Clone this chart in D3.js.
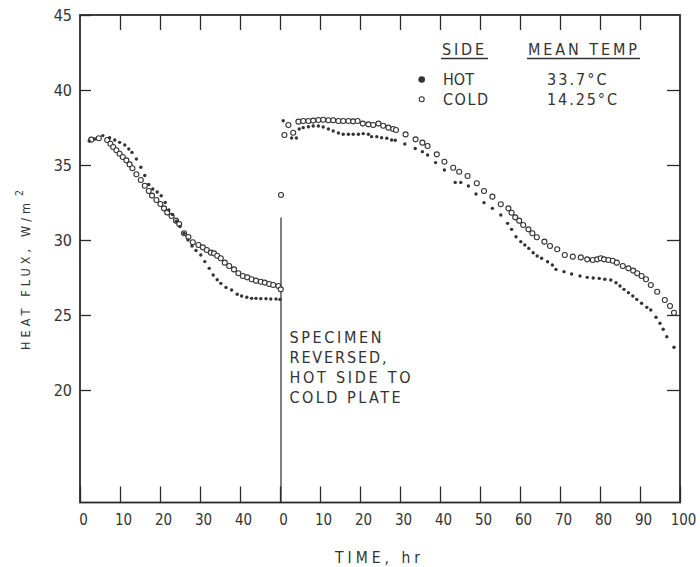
<!DOCTYPE html>
<html><head><meta charset="utf-8">
<script src="https://cdn.jsdelivr.net/npm/d3@7"></script>
<style>
html,body{margin:0;padding:0;background:#fff;}
svg{display:block;}
text{font-family:"DejaVu Sans Condensed","DejaVu Sans",sans-serif;fill:#333;}
</style></head><body>
<svg id="chart" width="700" height="567"></svg>
<script>
// ---- data: [time (hr), heat flux (W/m2)] ----
const hotRun1 = [[2.3,36.6],[3.7,36.73],[5.7,36.96],[7.4,36.82],[8.7,36.67],[9.9,36.51],[11.2,36.33],[12.2,36.07],[13.0,35.84],[14.1,35.4],[15.2,34.85],[16.2,34.3],[17.2,33.7],[18.2,33.4],[19.3,33.2],[20.3,32.95],[21.3,32.5],[22.2,32.0],[23.1,31.7],[24.1,31.25],[25.0,30.9],[26.0,30.45],[27.0,30.0],[28.0,29.6],[29.0,29.3],[30.2,29.0],[31.2,28.56],[32.3,28.11],[33.3,27.67],[34.3,27.35],[35.2,27.11],[36.5,26.84],[37.9,26.67],[39.3,26.38],[40.4,26.27],[41.7,26.18],[42.9,26.11],[44.0,26.11],[45.2,26.09],[46.5,26.09],[47.7,26.07],[49.0,26.07],[50.0,26.04]];
const coldRun1 = [[2.8,36.69],[4.7,36.78],[6.8,36.67],[7.6,36.42],[8.3,36.2],[9.1,35.98],[9.9,35.75],[10.7,35.53],[11.6,35.31],[12.4,35.04],[13.1,34.78],[14.1,34.38],[15.2,34.0],[16.2,33.62],[17.2,33.27],[18.0,32.96],[19.1,32.67],[20.1,32.4],[21.0,32.11],[21.8,31.84],[22.9,31.6],[24.0,31.29],[24.8,31.07],[26.0,30.45],[27.1,30.2],[28.2,29.85],[29.6,29.67],[30.7,29.51],[31.7,29.33],[32.7,29.16],[33.5,29.11],[34.3,28.95],[35.2,28.78],[36.2,28.49],[37.3,28.27],[38.5,28.04],[39.6,27.78],[40.7,27.6],[41.8,27.51],[42.9,27.38],[44.0,27.29],[45.2,27.22],[46.2,27.16],[47.3,27.07],[48.3,27.0],[49.6,26.93],[50.2,26.71]];
const hotRun2 = [[0.8,37.95],[2.9,36.8],[4.1,36.8],[4.8,37.4],[5.8,37.49],[7.1,37.55],[8.3,37.6],[9.6,37.6],[10.8,37.53],[12.1,37.4],[13.3,37.27],[14.6,37.13],[15.8,37.05],[17.1,37.05],[18.3,37.05],[19.6,37.05],[20.8,37.09],[22.1,37.05],[22.9,36.89],[24.2,36.89],[25.4,36.82],[26.7,36.78],[27.9,36.67],[28.8,36.65],[31.2,36.4],[33.8,36.1],[35.6,35.89],[36.9,35.67],[38.9,35.16],[41.1,34.67],[43.8,33.84],[45.2,33.84],[47.1,33.6],[49.0,33.07],[51.0,32.49],[53.1,32.11],[55.2,31.67],[56.9,31.11],[57.9,30.71],[59.0,30.22],[60.2,29.89],[61.2,29.67],[62.2,29.44],[63.3,29.15],[64.3,28.93],[65.4,28.78],[66.9,28.55],[68.1,28.33],[69.0,28.04],[71.0,27.89],[72.9,27.73],[75.0,27.6],[76.8,27.51],[78.3,27.47],[79.8,27.44],[81.2,27.38],[82.7,27.33],[84.0,27.15],[85.0,26.93],[86.0,26.71],[87.1,26.49],[88.2,26.27],[89.2,26.04],[90.4,25.78],[91.7,25.51],[92.7,25.33],[94.0,24.85],[95.0,24.45],[95.8,24.05],[96.7,23.55],[98.5,22.85]];
const coldRun2 = [[0.25,33.0],[1.1,37.0],[2.1,37.67],[3.3,37.15],[4.6,37.89],[5.8,37.93],[7.1,37.93],[8.3,37.96],[9.6,38.0],[10.8,38.02],[12.1,37.98],[13.3,37.98],[14.6,37.93],[15.8,37.93],[17.1,37.93],[18.3,37.91],[19.4,37.93],[20.7,37.76],[22.1,37.71],[23.3,37.67],[24.6,37.76],[25.8,37.62],[27.1,37.49],[28.3,37.4],[29.0,37.33],[31.4,37.04],[33.9,36.71],[35.6,36.49],[36.9,36.27],[39.2,35.71],[41.1,35.22],[43.3,34.82],[44.8,34.55],[46.9,34.27],[49.2,33.78],[51.0,33.27],[53.1,32.89],[55.2,32.38],[57.1,32.11],[57.9,31.82],[58.8,31.51],[59.8,31.29],[60.8,31.0],[62.1,30.71],[63.1,30.45],[64.2,30.18],[66.1,29.89],[67.5,29.6],[69.3,29.38],[71.2,29.0],[73.2,28.89],[75.2,28.84],[76.8,28.71],[78.2,28.67],[79.3,28.71],[80.2,28.78],[81.0,28.71],[82.1,28.67],[83.2,28.62],[84.2,28.49],[85.7,28.27],[87.1,28.11],[88.3,27.96],[89.3,27.78],[90.4,27.6],[91.5,27.38],[92.7,27.0],[94.3,26.55],[96.2,26.0],[97.5,25.6],[98.5,25.15]];

const run1Ticks = [0,10,20,30,40];
const run2Ticks = [0,10,20,30,40,50,60,70,80,90,100];
const yTicks = [20,25,30,35,40,45];
const legendSides = ["HOT","COLD"];
const legendTemps = ["33.7°C","14.25°C"];
const legendHeaders = ["SIDE","MEAN TEMP"];
const noteLines = ["SPECIMEN","REVERSED,","HOT SIDE TO","COLD PLATE"];
const xTitle = "TIME, hr";
const yTitle = "HEAT FLUX, W/m";

const RUN2_OFFSET = 50; // run 2 starts where run 1 axis reaches 50 hr
const REVERSAL_TOP = 31.5;

// ---- layout ----
const svg = d3.select("#chart");
const x = d3.scaleLinear().domain([0,150]).range([80,680]);
const y = d3.scaleLinear().domain([12.5,45]).range([502.5,15]);
const ink = "#2b2b2b";

svg.append("rect").attr("width",700).attr("height",567).attr("fill","#fff");

// tick positions/labels along the combined time axis
const xPos = run1Ticks.map(t=>t).concat(run2Ticks.map(t=>t+RUN2_OFFSET));
const xLab = run1Ticks.map(String).concat(run2Ticks.map(String));

// bottom axis
const gB = svg.append("g").attr("transform",`translate(0,${y(12.5)})`)
  .call(d3.axisBottom(x).tickValues(xPos).tickFormat((d,i)=>xLab[i])
        .tickSizeInner(-16).tickSizeOuter(0).tickPadding(12));
gB.select(".domain").remove();
gB.selectAll("line").attr("stroke",ink).attr("stroke-width",1.3);
gB.selectAll("text").attr("font-size",15).attr("dx",3).style("font-family",'"DejaVu Sans Condensed","DejaVu Sans",sans-serif').attr("fill","#444");

// top axis (ticks only)
const gT = svg.append("g").attr("transform",`translate(0,${y(45)})`)
  .call(d3.axisTop(x).tickValues(xPos.filter(v=>v>0 && v<150)).tickFormat("")
        .tickSizeInner(-15).tickSizeOuter(0));
gT.select(".domain").remove();
gT.selectAll("line").attr("stroke",ink).attr("stroke-width",1.3);

// left axis
const gL = svg.append("g").attr("transform",`translate(${x(0)},0)`)
  .call(d3.axisLeft(y).tickValues(yTicks).tickSizeInner(-11).tickSizeOuter(0).tickPadding(8));
gL.select(".domain").remove();
gL.selectAll("line").attr("stroke",ink).attr("stroke-width",1.3);
gL.selectAll("text").attr("font-size",16).style("font-family",'"DejaVu Sans Condensed","DejaVu Sans",sans-serif').attr("fill","#444");

// right axis (ticks only)
const gR = svg.append("g").attr("transform",`translate(${x(150)},0)`)
  .call(d3.axisRight(y).tickValues(yTicks.filter(v=>v<45)).tickFormat("")
        .tickSizeInner(-13).tickSizeOuter(0));
gR.select(".domain").remove();
gR.selectAll("line").attr("stroke",ink).attr("stroke-width",1.3);

// frame
svg.append("rect").attr("x",x(0)).attr("y",y(45))
  .attr("width",x(150)-x(0)).attr("height",y(12.5)-y(45))
  .attr("fill","none").attr("stroke",ink).attr("stroke-width",1.8);

// reversal line
svg.append("line").attr("x1",x(RUN2_OFFSET)+1).attr("x2",x(RUN2_OFFSET)+1)
  .attr("y1",y(REVERSAL_TOP)).attr("y2",y(12.5))
  .attr("stroke",ink).attr("stroke-width",1.2);

// data marks
const hotAll = hotRun1.map(d=>[d[0],d[1]]).concat(hotRun2.map(d=>[d[0]+RUN2_OFFSET,d[1]]));
const coldAll = coldRun1.map(d=>[d[0],d[1]]).concat(coldRun2.map(d=>[d[0]+RUN2_OFFSET,d[1]]));

svg.append("g").selectAll("circle").data(coldAll).join("circle")
  .attr("cx",d=>x(d[0])).attr("cy",d=>y(d[1])).attr("r",2.5)
  .attr("fill","#fff").attr("stroke","#333").attr("stroke-width",1.1);
svg.append("g").selectAll("circle").data(hotAll).join("circle")
  .attr("cx",d=>x(d[0])).attr("cy",d=>y(d[1])).attr("r",1.7)
  .attr("fill","#333");

// annotation
const note = svg.append("g");
const noteLen = [92,97,121,111];
noteLines.forEach((s,i)=>{
  note.append("text").attr("x",289.5).attr("y",342.5+i*20.1)
    .attr("font-size",16).attr("textLength",noteLen[i]).attr("lengthAdjust","spacing").text(s);
});

// legend
const lg = svg.append("g");
const hdrX = [442,528], hdrLen=[42,109], ulX=[[441,488],[527,640]];
legendHeaders.forEach((s,i)=>{
  lg.append("text").attr("x",hdrX[i]).attr("y",55).attr("font-size",16)
    .attr("textLength",hdrLen[i]).attr("lengthAdjust","spacing").text(s);
  lg.append("line").attr("x1",ulX[i][0]).attr("x2",ulX[i][1]).attr("y1",58.5).attr("y2",58.5)
    .attr("stroke","#333").attr("stroke-width",1.3);
});
const sideLen=[31,45], tempLen=[59.5,70];
legendSides.forEach((s,i)=>{
  const by = 85+i*20;
  lg.append("text").attr("x",443).attr("y",by).attr("font-size",16)
    .attr("textLength",sideLen[i]).attr("lengthAdjust","spacing").text(s);
  lg.append("text").attr("x",547).attr("y",by).attr("font-size",16)
    .attr("textLength",tempLen[i]).attr("lengthAdjust","spacing").text(legendTemps[i]);
});
lg.append("circle").attr("cx",421.7).attr("cy",79.5).attr("r",3.3).attr("fill","#333");
lg.append("circle").attr("cx",421.7).attr("cy",99.3).attr("r",2.5).attr("fill","#fff").attr("stroke","#333").attr("stroke-width",1.1);

// axis titles
svg.append("text").attr("x",335).attr("y",563).attr("font-size",15.5)
  .attr("textLength",85).attr("lengthAdjust","spacing").text(xTitle);
const yt = svg.append("text").attr("transform","translate(30,350) rotate(-90)").attr("font-size",12.5);
yt.append("tspan").attr("textLength",147).attr("lengthAdjust","spacing").text(yTitle);
yt.append("tspan").attr("dx",3).attr("dy",-7).attr("font-size",10.5).text("2");
</script>
</body></html>
